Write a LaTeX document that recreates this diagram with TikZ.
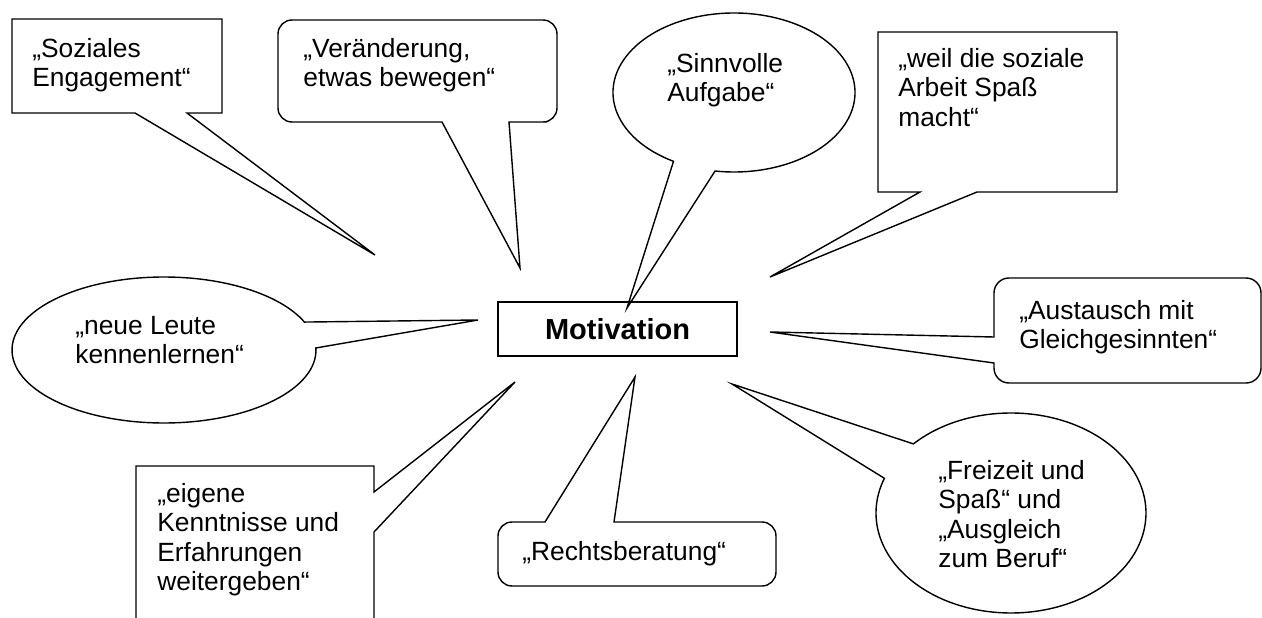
\documentclass[tikz,border=0pt]{standalone}
\usepackage{fontspec}
\setmainfont{Liberation Sans}
\usepackage{tikz}

\begin{document}
\begin{tikzpicture}[x=0.02cm, y=-0.02cm,
    bubble/.style={line width=0.8pt},
    saying/.style={anchor=north west, align=left, inner sep=0pt, font=\fontsize{15}{16.8}\selectfont}]
     \useasboundingbox (0,0) rectangle (1262,618);
     \draw [bubble] (12,19) -- (222,19) -- (222,113) -- (187,113) -- (375,255) -- (135,113) -- (12,113) -- cycle;
     \draw [bubble] (520,268) -- (442,122) -- (360,122) [rounded corners=0.28cm] -- (278,122) -- (278,20) -- (557,20) -- (557,122) -- (533,122) [sharp corners] -- (509,122) -- cycle;
     \draw [bubble] ({734+121*cos(120)},{92.5+79.5*sin(120)}) arc [start angle=120, end angle=459, x radius=121, y radius=79.5] -- (627,308) -- cycle;
     \draw [bubble] (878,32) -- (1117,32) -- (1117,192) -- (977,192) -- (770,277) -- (920,192) -- (878,192) -- cycle;
     \draw [bubble] ({164+152*cos(-1.6)},{350+73*sin(-1.6)}) arc [start angle=-1.6, end angle=337.5, x radius=152, y radius=73] -- (478,320) -- cycle;
     \draw [bubble] (770,332) -- (994,363) [rounded corners=0.3cm] -- (994,383) -- (1261,383) -- (1261,278) -- (994,278) -- (994,310) [sharp corners] -- (994,337) -- cycle;
     \draw [bubble] (136,628) -- (136,466) -- (374,466) -- (374,492) -- (515,382) -- (374,532) -- (374,628);
     \draw [bubble] (635,377) -- (614,522) -- (700,522) [rounded corners=0.28cm] -- (776,522) -- (776,586) -- (498,586) -- (498,522) -- (525,522) [sharp corners] -- (545,522) -- cycle;
     \draw [bubble] ({1011+135*cos(223.7)},{513+100*sin(223.7)}) arc [start angle=223.7, end angle=560.3, x radius=135, y radius=100] -- (732,384) -- cycle;
     \node [draw, bubble, inner sep=0pt, minimum width=4.78cm, minimum height=1.08cm, font=\fontsize{16.5}{18}\selectfont\bfseries] (motivation) at (617.5,329) {Motivation};
     \node [saying] (soziales) at (32,38) {„Soziales\\Engagement“};
     \node [saying] (veraenderung) at (303,38) {„Veränderung,\\etwas bewegen“};
     \node [saying] (sinnvoll) at (667,53) {„Sinnvolle\\Aufgabe“};
     \node [saying] (spass) at (898,48) {„weil die soziale\\Arbeit Spaß\\macht“};
     \node [saying] (leute) at (75,316) {„neue Leute\\kennenlernen“};
     \node [saying] (austausch) at (1019,300) {„Austausch mit\\Gleichgesinnten“};
     \node [saying] (kenntnisse) at (157,483) {„eigene\\Kenntnisse und\\Erfahrungen\\weitergeben“};
     \node [saying] (recht) at (522,541) {„Rechtsberatung“};
     \node [saying] (freizeit) at (938,460) {„Freizeit und\\Spaß“ und\\„Ausgleich\\zum Beruf“};
\end{tikzpicture}
\end{document}
